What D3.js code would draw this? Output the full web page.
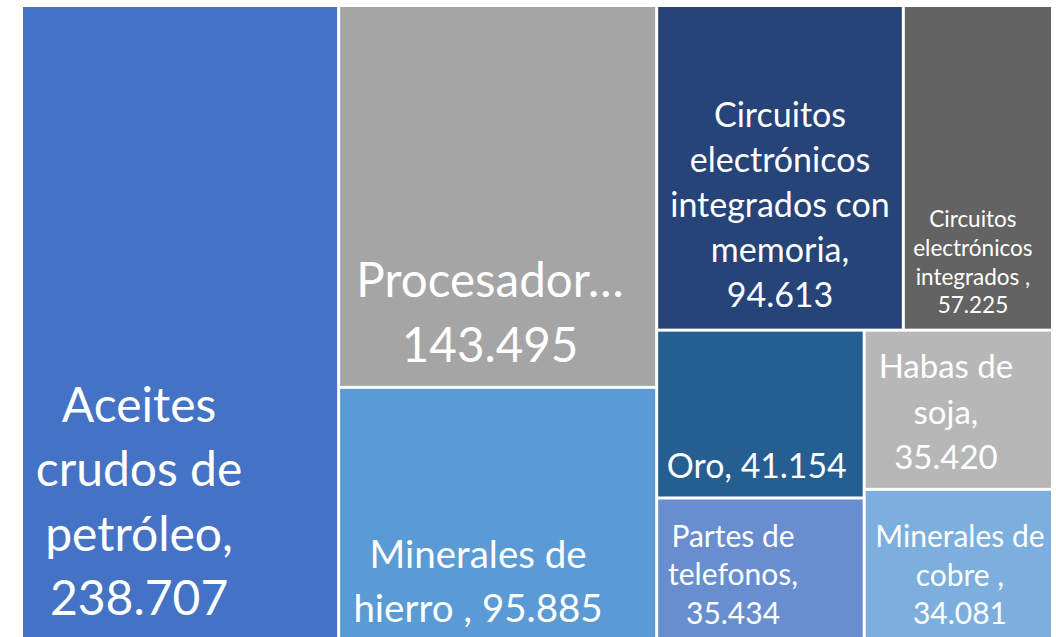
<!DOCTYPE html>
<html>
<head>
<meta charset="utf-8">
<script src="https://cdn.jsdelivr.net/npm/d3@7"></script>
<style>
  body { margin: 0; background: #fff; }
  svg { display: block; }
  .cell-label { font-family: Lato, "Open Sans", sans-serif; fill: #fff; }
</style>
</head>
<body>
<div id="chart"></div>
<script>
// Exportaciones por producto (valores)
const categories = [
  "Aceites crudos de petróleo",
  "Procesador…",
  "Minerales de hierro ",
  "Circuitos electrónicos integrados con memoria",
  "Circuitos electrónicos integrados ",
  "Oro",
  "Partes de telefonos",
  "Habas de soja",
  "Minerales de cobre "
];
const values = [238707, 143495, 95885, 94613, 57225, 41154, 35434, 35420, 34081];
const colors = ["#4472C4", "#A5A5A5", "#5B9BD5", "#264478", "#636363",
                "#255E91", "#698ED0", "#B7B7B7", "#7CAFDD"];

// nombre de elementos por fila en el mosaico (como lo dibuja Excel)
const rowSizes = [1, 2, 2, 2, 1, 1];

// etiquetas: palabras por linea, tamaño, interlineado, desplazamientos
const labelStyle = [
  {words: [1, 2, 1, 1], size: 48, lh: 64.5, dx: -41, top: 414.7},
  {words: [1, 1],       size: 47.5, lh: 65, dx: -7.6, top: 289.7},
  {words: [2, 3],       size: 38.5, lh: 53.4, dx: -19.6, top: 179.5},
  {words: [1, 1, 2, 1, 1], size: 34, lh: 45, dx: 0, top: 119.7},
  {words: [1, 1, 2, 1], size: 22.5, lh: 28.9, dx: -5, top: 219.7},
  {words: [2],          size: 33.8, lh: 40,   dx: -3.7, top: 146.1},
  {words: [2, 1, 1],    size: 30, lh: 38.3, dx: -27.4, top: 47.7},
  {words: [2, 1, 1],    size: 33, lh: 45.8, dx: -12.4, top: 46.1},
  {words: [2, 2, 1],    size: 30, lh: 38.3, dx: 1.6, top: 56.4}
];

const width = 1056, height = 637;
const area = {x: 21.5, y: 5.5, w: 1031, h: 637};

const fmt = d3.formatLocale({decimal: ",", thousands: ".", grouping: [3], currency: ["", ""]}).format(",");

const data = categories.map((c, i) => ({name: c, value: values[i], index: i}));

// tile por filas: cada fila es una columna o una fila segun la forma del espacio restante
function rowTile(parent, x0, y0, x1, y1) {
  const nodes = parent.children;
  let value = parent.value, i0 = 0;
  rowSizes.forEach(n => {
    const kids = nodes.slice(i0, i0 + n);
    if (!kids.length) return;
    const sum = d3.sum(kids, d => d.value);
    const row = {children: kids, value: sum};
    const dx = x1 - x0, dy = y1 - y0;
    if (dx < dy) {
      const yy = y0 + dy * sum / value;
      d3.treemapDice(row, x0, y0, x1, yy);
      y0 = yy;
    } else {
      const xx = x0 + dx * sum / value;
      d3.treemapSlice(row, x0, y0, xx, y1);
      x0 = xx;
    }
    value -= sum;
    i0 += n;
  });
}

const root = d3.hierarchy({children: data})
  .sum(d => d.value || 0);

d3.treemap()
  .tile(rowTile)
  .size([area.w, area.h])
  .paddingInner(3)
  .paddingOuter(1.5)(root);

const svg = d3.select("#chart").append("svg")
  .attr("width", width)
  .attr("height", height);

const g = svg.append("g")
  .attr("transform", `translate(${area.x},${area.y})`);

const cell = g.selectAll("g.cell")
  .data(root.leaves())
  .enter().append("g")
  .attr("class", "cell");

cell.append("rect")
  .attr("x", d => d.x0)
  .attr("y", d => d.y0)
  .attr("width", d => d.x1 - d.x0)
  .attr("height", d => d.y1 - d.y0)
  .style("fill", d => colors[d.data.index]);

cell.each(function(d) {
  const st = labelStyle[d.data.index];
  const name = d.data.name;
  const txt = name.endsWith("…") ? name + " " + fmt(d.data.value)
                                 : name + ", " + fmt(d.data.value);
  const tokens = txt.split(/\s+/).filter(t => t.length);
  const lines = [];
  let k = 0;
  st.words.forEach(n => { lines.push(tokens.slice(k, k + n).join(" ")); k += n; });

  const cx = (d.x0 + d.x1) / 2 + st.dx;
  const t = d3.select(this).append("text")
    .attr("class", "cell-label")
    .attr("text-anchor", "middle")
    .style("font-size", st.size + "px");
  lines.forEach((l, j) => {
    t.append("tspan")
      .attr("x", cx)
      .attr("y", d.y0 + st.top + j * st.lh)
      .text(l);
  });
});
</script>
</body>
</html>
